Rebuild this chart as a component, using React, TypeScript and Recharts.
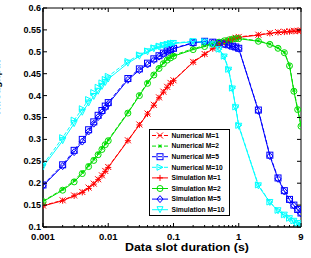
import * as React from 'react';
import { LineChart, Line, XAxis, YAxis, ReferenceArea, Legend } from 'recharts';

// slot durations (s), sampled 1..9 per decade
const durations = [
  0.001, 0.002, 0.003, 0.004, 0.005, 0.006, 0.007, 0.008, 0.009,
  0.01, 0.02, 0.03, 0.04, 0.05, 0.06, 0.07, 0.08, 0.09,
  0.1, 0.2, 0.3, 0.4, 0.5, 0.6, 0.7, 0.8, 0.9,
  1, 2, 3, 4, 5, 6, 7, 8, 9,
];

const simM1 = [
  0.148, 0.160, 0.171, 0.179, 0.188, 0.198, 0.208, 0.217, 0.227,
  0.236, 0.297, 0.333, 0.358, 0.378, 0.395, 0.408, 0.419, 0.428,
  0.434, 0.476, 0.494, 0.507, 0.515, 0.521, 0.525, 0.528, 0.531,
  0.533, 0.538, 0.542, 0.544, 0.545, 0.546, 0.547, 0.547, 0.548,
];
const simM2 = [
  0.158, 0.184, 0.203, 0.222, 0.238, 0.252, 0.265, 0.277, 0.288,
  0.297, 0.360, 0.400, 0.428, 0.447, 0.462, 0.473, 0.481, 0.486,
  0.490, 0.505, 0.512, 0.518, 0.522, 0.525, 0.527, 0.529, 0.530,
  0.530, 0.524, 0.517, 0.508, 0.498, 0.468, 0.410, 0.368, 0.330,
];
const simM5 = [
  0.194, 0.239, 0.271, 0.295, 0.318, 0.336, 0.351, 0.362, 0.372,
  0.381, 0.436, 0.458, 0.471, 0.481, 0.489, 0.495, 0.500, 0.504,
  0.507, 0.520, 0.523, 0.521, 0.519, 0.517, 0.515, 0.512, 0.510,
  0.507, 0.365, 0.262, 0.210, 0.181, 0.162, 0.149, 0.139, 0.131,
];
const simM10 = [
  0.237, 0.297, 0.336, 0.362, 0.383, 0.398, 0.410, 0.421, 0.430,
  0.438, 0.474, 0.490, 0.500, 0.507, 0.511, 0.514, 0.516, 0.518,
  0.519, 0.523, 0.522, 0.516, 0.505, 0.488, 0.458, 0.415, 0.372,
  0.330, 0.194, 0.156, 0.137, 0.127, 0.119, 0.113, 0.108, 0.103,
];

const numM1 = [
  0.149, 0.161, 0.172, 0.180, 0.190, 0.199, 0.209, 0.218, 0.228,
  0.237, 0.298, 0.334, 0.359, 0.379, 0.396, 0.409, 0.420, 0.429,
  0.435, 0.477, 0.495, 0.508, 0.516, 0.522, 0.526, 0.529, 0.532,
  0.534, 0.539, 0.543, 0.545, 0.546, 0.547, 0.548, 0.548, 0.549,
];
const numM2 = [
  0.159, 0.186, 0.206, 0.225, 0.241, 0.255, 0.268, 0.280, 0.290,
  0.299, 0.362, 0.402, 0.430, 0.449, 0.464, 0.475, 0.483, 0.488,
  0.492, 0.507, 0.514, 0.519, 0.523, 0.526, 0.528, 0.530, 0.531,
  0.531, 0.525, 0.518, 0.509, 0.499, 0.470, 0.412, 0.370, 0.332,
];
const numM5 = [
  0.196, 0.242, 0.275, 0.300, 0.322, 0.340, 0.355, 0.366, 0.376,
  0.384, 0.439, 0.461, 0.474, 0.484, 0.491, 0.497, 0.502, 0.505,
  0.508, 0.521, 0.524, 0.522, 0.520, 0.518, 0.516, 0.513, 0.511,
  0.508, 0.367, 0.264, 0.212, 0.183, 0.163, 0.150, 0.140, 0.132,
];
const numM10 = [
  0.242, 0.304, 0.344, 0.370, 0.391, 0.407, 0.419, 0.429, 0.437,
  0.444, 0.478, 0.493, 0.502, 0.509, 0.513, 0.515, 0.517, 0.519,
  0.520, 0.524, 0.523, 0.517, 0.506, 0.490, 0.460, 0.417, 0.374,
  0.332, 0.196, 0.157, 0.138, 0.128, 0.120, 0.114, 0.109, 0.104,
];

const xTicks = [
  0.001, 0.002, 0.003, 0.004, 0.005, 0.006, 0.007, 0.008, 0.009,
  0.01, 0.02, 0.03, 0.04, 0.05, 0.06, 0.07, 0.08, 0.09,
  0.1, 0.2, 0.3, 0.4, 0.5, 0.6, 0.7, 0.8, 0.9,
  1, 2, 3, 4, 5, 6, 7, 8, 9,
];
const xMajor = [0.001, 0.01, 0.1, 1, 9];
const xMajorLabels = ['0.001', '0.01', '0.1', '1', '9'];
const yTicks = [0.1, 0.15, 0.2, 0.25, 0.3, 0.35, 0.4, 0.45, 0.5, 0.55, 0.6];
const yTickLabels = ['0.1', '0.15', '0.2', '0.25', '0.3', '0.35', '0.4', '0.45', '0.5', '0.55', '0.6'];

const FONT = '"Liberation Sans", Arial, Helvetica, sans-serif';
const PLOT = { left: 43, right: 301, top: 8, bottom: 227 };

type MarkerKind = 'x' | 'star' | 'square' | 'right' | 'plus' | 'circle' | 'diamond' | 'down';

interface SeriesDef {
  key: string;
  name: string;
  color: string;
  dashed: boolean;
  marker: MarkerKind;
  values: number[];
}

const RED = '#ff0000';
const GREEN = '#00dd00';
const BLUE = '#0000ff';
const CYAN = '#00ffff';

const series: SeriesDef[] = [
  { key: 'n1', name: 'Numerical M=1', color: RED, dashed: true, marker: 'x', values: numM1 },
  { key: 'n2', name: 'Numerical M=2', color: GREEN, dashed: true, marker: 'star', values: numM2 },
  { key: 'n5', name: 'Numerical M=5', color: BLUE, dashed: true, marker: 'square', values: numM5 },
  { key: 'n10', name: 'Numerical M=10', color: CYAN, dashed: true, marker: 'right', values: numM10 },
  { key: 's1', name: 'Simulation M=1', color: RED, dashed: false, marker: 'plus', values: simM1 },
  { key: 's2', name: 'Simulation M=2', color: GREEN, dashed: false, marker: 'circle', values: simM2 },
  { key: 's5', name: 'Simulation M=5', color: BLUE, dashed: false, marker: 'diamond', values: simM5 },
  { key: 's10', name: 'Simulation M=10', color: CYAN, dashed: false, marker: 'down', values: simM10 },
];

const rows = durations.map((d, i) => {
  const row: Record<string, number> = { d };
  series.forEach((s) => {
    row[s.key] = s.values[i];
  });
  return row;
});

const Marker = ({ kind, cx, cy, color, s = 3 }: { kind: MarkerKind; cx: number; cy: number; color: string; s?: number }) => {
  const common = { stroke: color, strokeWidth: 1, fill: 'none' };
  switch (kind) {
    case 'x':
      return <path d={`M${cx - s},${cy - s}L${cx + s},${cy + s}M${cx - s},${cy + s}L${cx + s},${cy - s}`} {...common} />;
    case 'plus':
      return <path d={`M${cx - s},${cy}L${cx + s},${cy}M${cx},${cy - s}L${cx},${cy + s}`} {...common} />;
    case 'star': {
      const r = 1.5;
      return (
        <path
          d={`M${cx - r},${cy}L${cx + r},${cy}M${cx},${cy - r}L${cx},${cy + r}M${cx - r},${cy - r}L${cx + r},${cy + r}M${cx - r},${cy + r}L${cx + r},${cy - r}`}
          {...common}
        />
      );
    }
    case 'square':
      return <rect x={cx - s} y={cy - s} width={2 * s} height={2 * s} {...common} />;
    case 'right':
      return <path d={`M${cx + s},${cy}L${cx - s},${cy - s}L${cx - s},${cy + s}Z`} {...common} />;
    case 'circle':
      return <circle cx={cx} cy={cy} r={s} {...common} />;
    case 'diamond':
      return <path d={`M${cx},${cy - s - 0.5}L${cx + s},${cy}L${cx},${cy + s + 0.5}L${cx - s},${cy}Z`} {...common} />;
    case 'down':
      return <path d={`M${cx - s},${cy - s}L${cx + s},${cy - s}L${cx},${cy + s}Z`} {...common} />;
    default:
      return null;
  }
};

// log axis ticks point inward, drawn on both bottom and top edges
const XTick = (props: any) => {
  const { x, payload } = props;
  const idx = xMajor.indexOf(payload.value);
  const len = idx >= 0 ? 4 : 2;
  return (
    <g>
      <line x1={x} x2={x} y1={PLOT.bottom} y2={PLOT.bottom - len} stroke="#000" />
      <line x1={x} x2={x} y1={PLOT.top} y2={PLOT.top + len} stroke="#000" />
      {idx >= 0 && (
        <text x={x} y={PLOT.bottom + 12.5} textAnchor="middle" fontFamily={FONT} fontWeight="bold" fontSize={9.5} fill="#000">
          {xMajorLabels[idx]}
        </text>
      )}
    </g>
  );
};

const YTick = (props: any) => {
  const { y, payload } = props;
  const idx = yTicks.indexOf(payload.value);
  return (
    <g>
      <line x1={PLOT.left} x2={PLOT.left + 4} y1={y} y2={y} stroke="#000" />
      <line x1={PLOT.right} x2={PLOT.right - 4} y1={y} y2={y} stroke="#000" />
      <text x={PLOT.left - 2} y={y} dy="0.33em" textAnchor="end" fontFamily={FONT} fontWeight="bold" fontSize={9} fill="#000">
        {yTickLabels[idx]}
      </text>
    </g>
  );
};

const LegendBox = () => (
  <svg width={81} height={87} style={{ display: 'block' }}>
    <rect x={0.5} y={0.5} width={80} height={86} fill="#fff" stroke="#000" />
    {series.map((s, i) => {
      const cy = 6.5 + i * 10.6;
      return (
        <g key={s.key}>
          <line x1={3} x2={19} y1={cy} y2={cy} stroke={s.color} strokeDasharray={s.dashed ? '4 2' : undefined} />
          <Marker kind={s.marker} cx={11} cy={cy} color={s.color} />
          <text x={22.5} y={cy} dy="0.35em" fontFamily={FONT} fontWeight="bold" fontSize={6.7} fill="#000">
            {s.name}
          </text>
        </g>
      );
    })}
  </svg>
);

export default function App() {
  return (
    <div style={{ position: 'absolute', left: 0, top: 0, width: 311, height: 258, background: '#fff', overflow: 'hidden' }}>
      <LineChart width={311} height={258} data={rows} margin={{ top: 8, right: 10, bottom: 0, left: 0 }}>
        <XAxis
          dataKey="d"
          type="number"
          scale="log"
          domain={[0.001, 9]}
          allowDataOverflow
          ticks={xTicks}
          interval={0}
          tick={<XTick />}
          tickLine={false}
          axisLine={{ stroke: '#000' }}
          height={31}
        />
        <YAxis
          type="number"
          domain={[0.1, 0.6]}
          allowDataOverflow
          ticks={yTicks}
          interval={0}
          tick={<YTick />}
          tickLine={false}
          axisLine={{ stroke: '#000' }}
          width={43}
        />
        <ReferenceArea x1={0.001} x2={9} y1={0.1} y2={0.6} fill="none" stroke="#000" strokeWidth={1} />
        {series.map((s) => (
          <Line
            key={s.key}
            dataKey={s.key}
            name={s.name}
            type="linear"
            stroke={s.color}
            strokeWidth={1}
            strokeDasharray={s.dashed ? '4 2' : undefined}
            isAnimationActive={false}
            dot={(p: any) => <Marker key={`${s.key}-${p.index}`} kind={s.marker} cx={p.cx} cy={p.cy} color={s.color} />}
            activeDot={false}
          />
        ))}
        <Legend
          layout="vertical"
          align="center"
          verticalAlign="middle"
          wrapperStyle={{ left: 149, top: 129, width: 81, height: 87 }}
          content={() => <LegendBox />}
        />
      </LineChart>
      <svg width={311} height={258} style={{ position: 'absolute', left: 0, top: 0, pointerEvents: 'none' }}>
        <text x={187} y={250.5} textAnchor="middle" fontFamily={FONT} fontWeight="bold" fontSize={10.5} textLength={124} lengthAdjust="spacingAndGlyphs" fill="#000">
          Data slot duration (s)
        </text>
        <text x={0} y={88} transform="rotate(-90 0 88)" textAnchor="middle" fontFamily={FONT} fontWeight="bold" fontSize={10} fill="#000">
          Throughput
        </text>
      </svg>
    </div>
  );
}
